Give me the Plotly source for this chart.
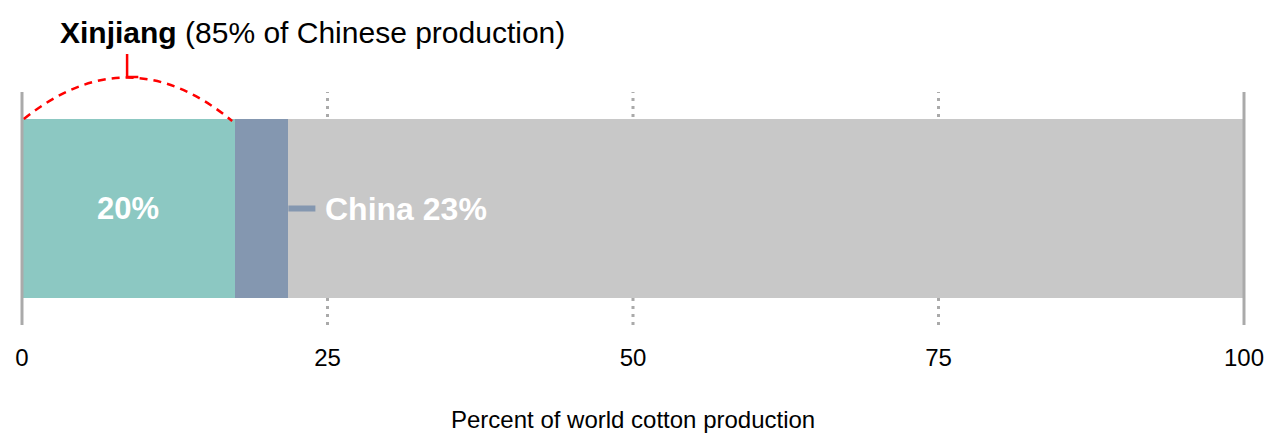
import plotly.graph_objects as go

# ---- data ----
segments = ["Xinjiang", "Rest of China", "Rest of world"]
segment_values = [17.4, 4.4, 78.2]          # percent of world cotton production (drawn widths)
segment_colors = ["#8cc8c2", "#8497b0", "#c8c8c8"]
xinjiang_label = "20%"
china_label = "China 23%"
title_bold = "Xinjiang"
title_rest = "(85% of Chinese production)"
tick_values = [0, 25, 50, 75, 100]
tick_labels = ["0", "25", "50", "75", "100"]
axis_title = "Percent of world cotton production"

xinjiang = segment_values[0]
china = segment_values[0] + segment_values[1]

# ---- layout geometry ----
W, H = 1274, 433
L, R, T, B = 20, 28, 35, 108
px_per_x = 12.22
x_min = -2 / px_per_x
x_max = (W - L - R) / px_per_x + x_min
px_per_y = 233.0
y_max = (H - B - T) / px_per_y
plot_h = H - B - T


def paper_y(py):
    return (H - B - py) / plot_h


fig = go.Figure()
for name, v, c in zip(segments, segment_values, segment_colors):
    fig.add_trace(go.Bar(
        y=[0.5], x=[v], orientation="h", name=name, width=0.768,
        marker=dict(color=c, line=dict(width=0)), hoverinfo="skip",
    ))

shapes = []
# dotted guides at interior ticks
for tv in tick_values[1:-1]:
    shapes.append(dict(type="line", xref="x", yref="y", x0=tv, x1=tv, y0=0, y1=1,
                       line=dict(color="#aaaaaa", width=3, dash="3px,5px"), layer="below"))
# solid end lines
for tv in (tick_values[0], tick_values[-1]):
    shapes.append(dict(type="line", xref="x", yref="y", x0=tv, x1=tv, y0=0, y1=1,
                       line=dict(color="#aaaaaa", width=3), layer="above"))
# leader line for China label
shapes.append(dict(type="line", xref="x", yref="y", x0=china, x1=china + 27 / px_per_x,
                   y0=0.5, y1=0.5, line=dict(color=segment_colors[1], width=6), layer="above"))
# red dashed arc over Xinjiang
top = 0.5 + 0.768 / 2
peak = top + 42 / px_per_y
ctrl = top + 2 * (peak - top)
shapes.append(dict(type="path", xref="x", yref="y",
                   path=f"M {0.15},{top} Q {xinjiang/2},{ctrl} {xinjiang-0.2},{top - 2/px_per_y}",
                   line=dict(color="#ff0000", width=2.5, dash="8px,6px"), layer="above"))
# little L-shaped tick at the arc's apex
shapes.append(dict(type="path", xref="x", yref="y",
                   path=(f"M {xinjiang/2 - 0.1},{peak + 23/px_per_y} L {xinjiang/2 - 0.1},{peak} "
                         f"L {xinjiang/2 + 10/px_per_x},{peak}"),
                   line=dict(color="#ff0000", width=2.5), layer="above"))

annotations = [
    dict(x=xinjiang / 2, y=0.5, xref="x", yref="y", text=f"<b>{xinjiang_label}</b>",
         showarrow=False, font=dict(color="white", size=31), xanchor="center", yanchor="middle"),
    dict(x=china, y=0.5, xref="x", yref="y", text=f"<b>{china_label}</b>", xshift=35,
         showarrow=False, font=dict(color="white", size=32), xanchor="left", yanchor="middle"),
    dict(x=(58 - L) / (W - L - R), y=paper_y(32), xref="paper", yref="paper",
         text=f"<b>{title_bold}</b> {title_rest}",
         showarrow=False, font=dict(color="black", size=30), xanchor="left", yanchor="middle"),
    dict(x=0.5, y=paper_y(420), xref="paper", yref="paper", text=axis_title,
         showarrow=False, font=dict(color="black", size=24), xanchor="center", yanchor="middle"),
]

fig.update_layout(
    width=W, height=H, margin=dict(l=L, r=R, t=T, b=B, pad=0, autoexpand=False),
    barmode="stack", showlegend=False,
    plot_bgcolor="white", paper_bgcolor="white",
    font=dict(family="Arial, Liberation Sans, sans-serif", color="black"),
    shapes=shapes, annotations=annotations,
    xaxis=dict(range=[x_min, x_max], tickvals=tick_values, ticktext=tick_labels,
               showgrid=False, zeroline=False, showline=False, automargin=False,
               ticks="outside", ticklen=11, tickcolor="rgba(0,0,0,0)",
               tickfont=dict(size=24, color="black"), fixedrange=True),
    yaxis=dict(range=[0, y_max], visible=False, fixedrange=True, automargin=False),
)

fig.write_html("out.html", config={"displayModeBar": False})
